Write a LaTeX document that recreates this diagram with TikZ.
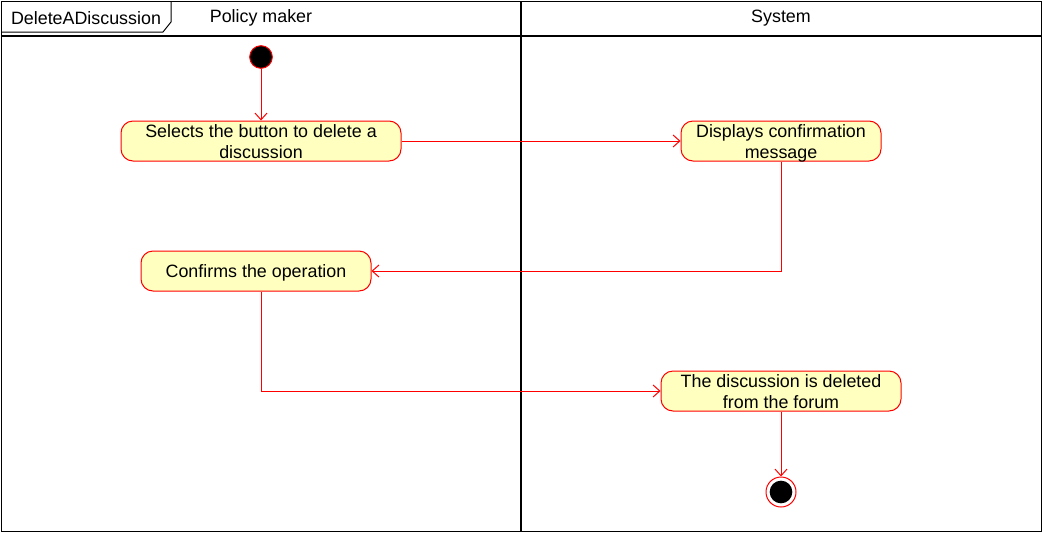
\documentclass[tikz,border=0pt]{standalone}
\usepackage{fontspec}
\setmainfont{Liberation Sans}
\usetikzlibrary{arrows.meta,calc}
\definecolor{actfill}{HTML}{FFFFC0}
\definecolor{actred}{HTML}{FF0000}
\newcommand{\dnbox}[1]{\raisebox{-5.6pt}[0pt][0pt]{\begin{tabular}{@{}c@{}}#1\end{tabular}}}
\begin{document}
\begin{tikzpicture}[x=0.75pt,y=-0.75pt,
  lbl/.style={font=\fontsize{13.4}{15.75}\selectfont, inner sep=0pt, yshift=-1.5pt},
  act/.style={draw=actred, fill=actfill, rounded corners=9pt, minimum height=30pt,
    align=center, font=\fontsize{13.4}{15.75}\selectfont, inner sep=0pt, line width=0.75pt},
  flow/.style={draw=actred, line width=0.75pt, -{Straight Barb[length=5pt,width=9pt]}},
  frameline/.style={draw=black, line width=0.75pt},
  laneline/.style={draw=black, line width=1.5pt}]
\useasboundingbox (0,0) rectangle (1042,532);
% frame and lanes
\draw[frameline] (1,1) rectangle (1041,531);
\draw[laneline] (521,1) -- (521,531);
\draw[laneline] (1,36) -- (1041,36);
\draw[frameline] (1,32) -- (163,32) -- (171,22) -- (171,1);
\node[lbl] (title) at (86,16) {DeleteADiscussion};
\node[lbl] (lane1) at (261,16) {Policy maker};
\node[lbl] (lane2) at (781,16) {System};
% nodes
\node[circle, fill=black, draw=actred, line width=0.75pt, minimum size=17pt, inner sep=0pt] (start) at (261,57) {};
\node[act, minimum width=210pt] (a1) at (261,141) {\dnbox{Selects the button to delete a\\discussion}};
\node[act, minimum width=150pt] (a2) at (781,141) {\dnbox{Displays confirmation\\message}};
\node[act, minimum width=172.5pt] (a3) at (256,271) {\dnbox{Confirms the operation}};
\node[act, minimum width=180pt] (a4) at (781,391) {\dnbox{The discussion is deleted\\from the forum}};
\node[circle, fill=white, draw=actred, line width=0.75pt, minimum size=22.5pt, inner sep=0pt] (endn) at (781,492) {};
\node[circle, fill=black, minimum size=17pt, inner sep=0pt] (endin) at (endn) {};
% edges
\draw[flow] (start) -- (a1);
\draw[flow] (a1) -- (a2);
\draw[flow] (a2.south) |- (a3.east);
\draw[flow] (a3.south -| start) |- (a4.west);
\draw[flow] (a4) -- (endn);
\end{tikzpicture}
\end{document}
